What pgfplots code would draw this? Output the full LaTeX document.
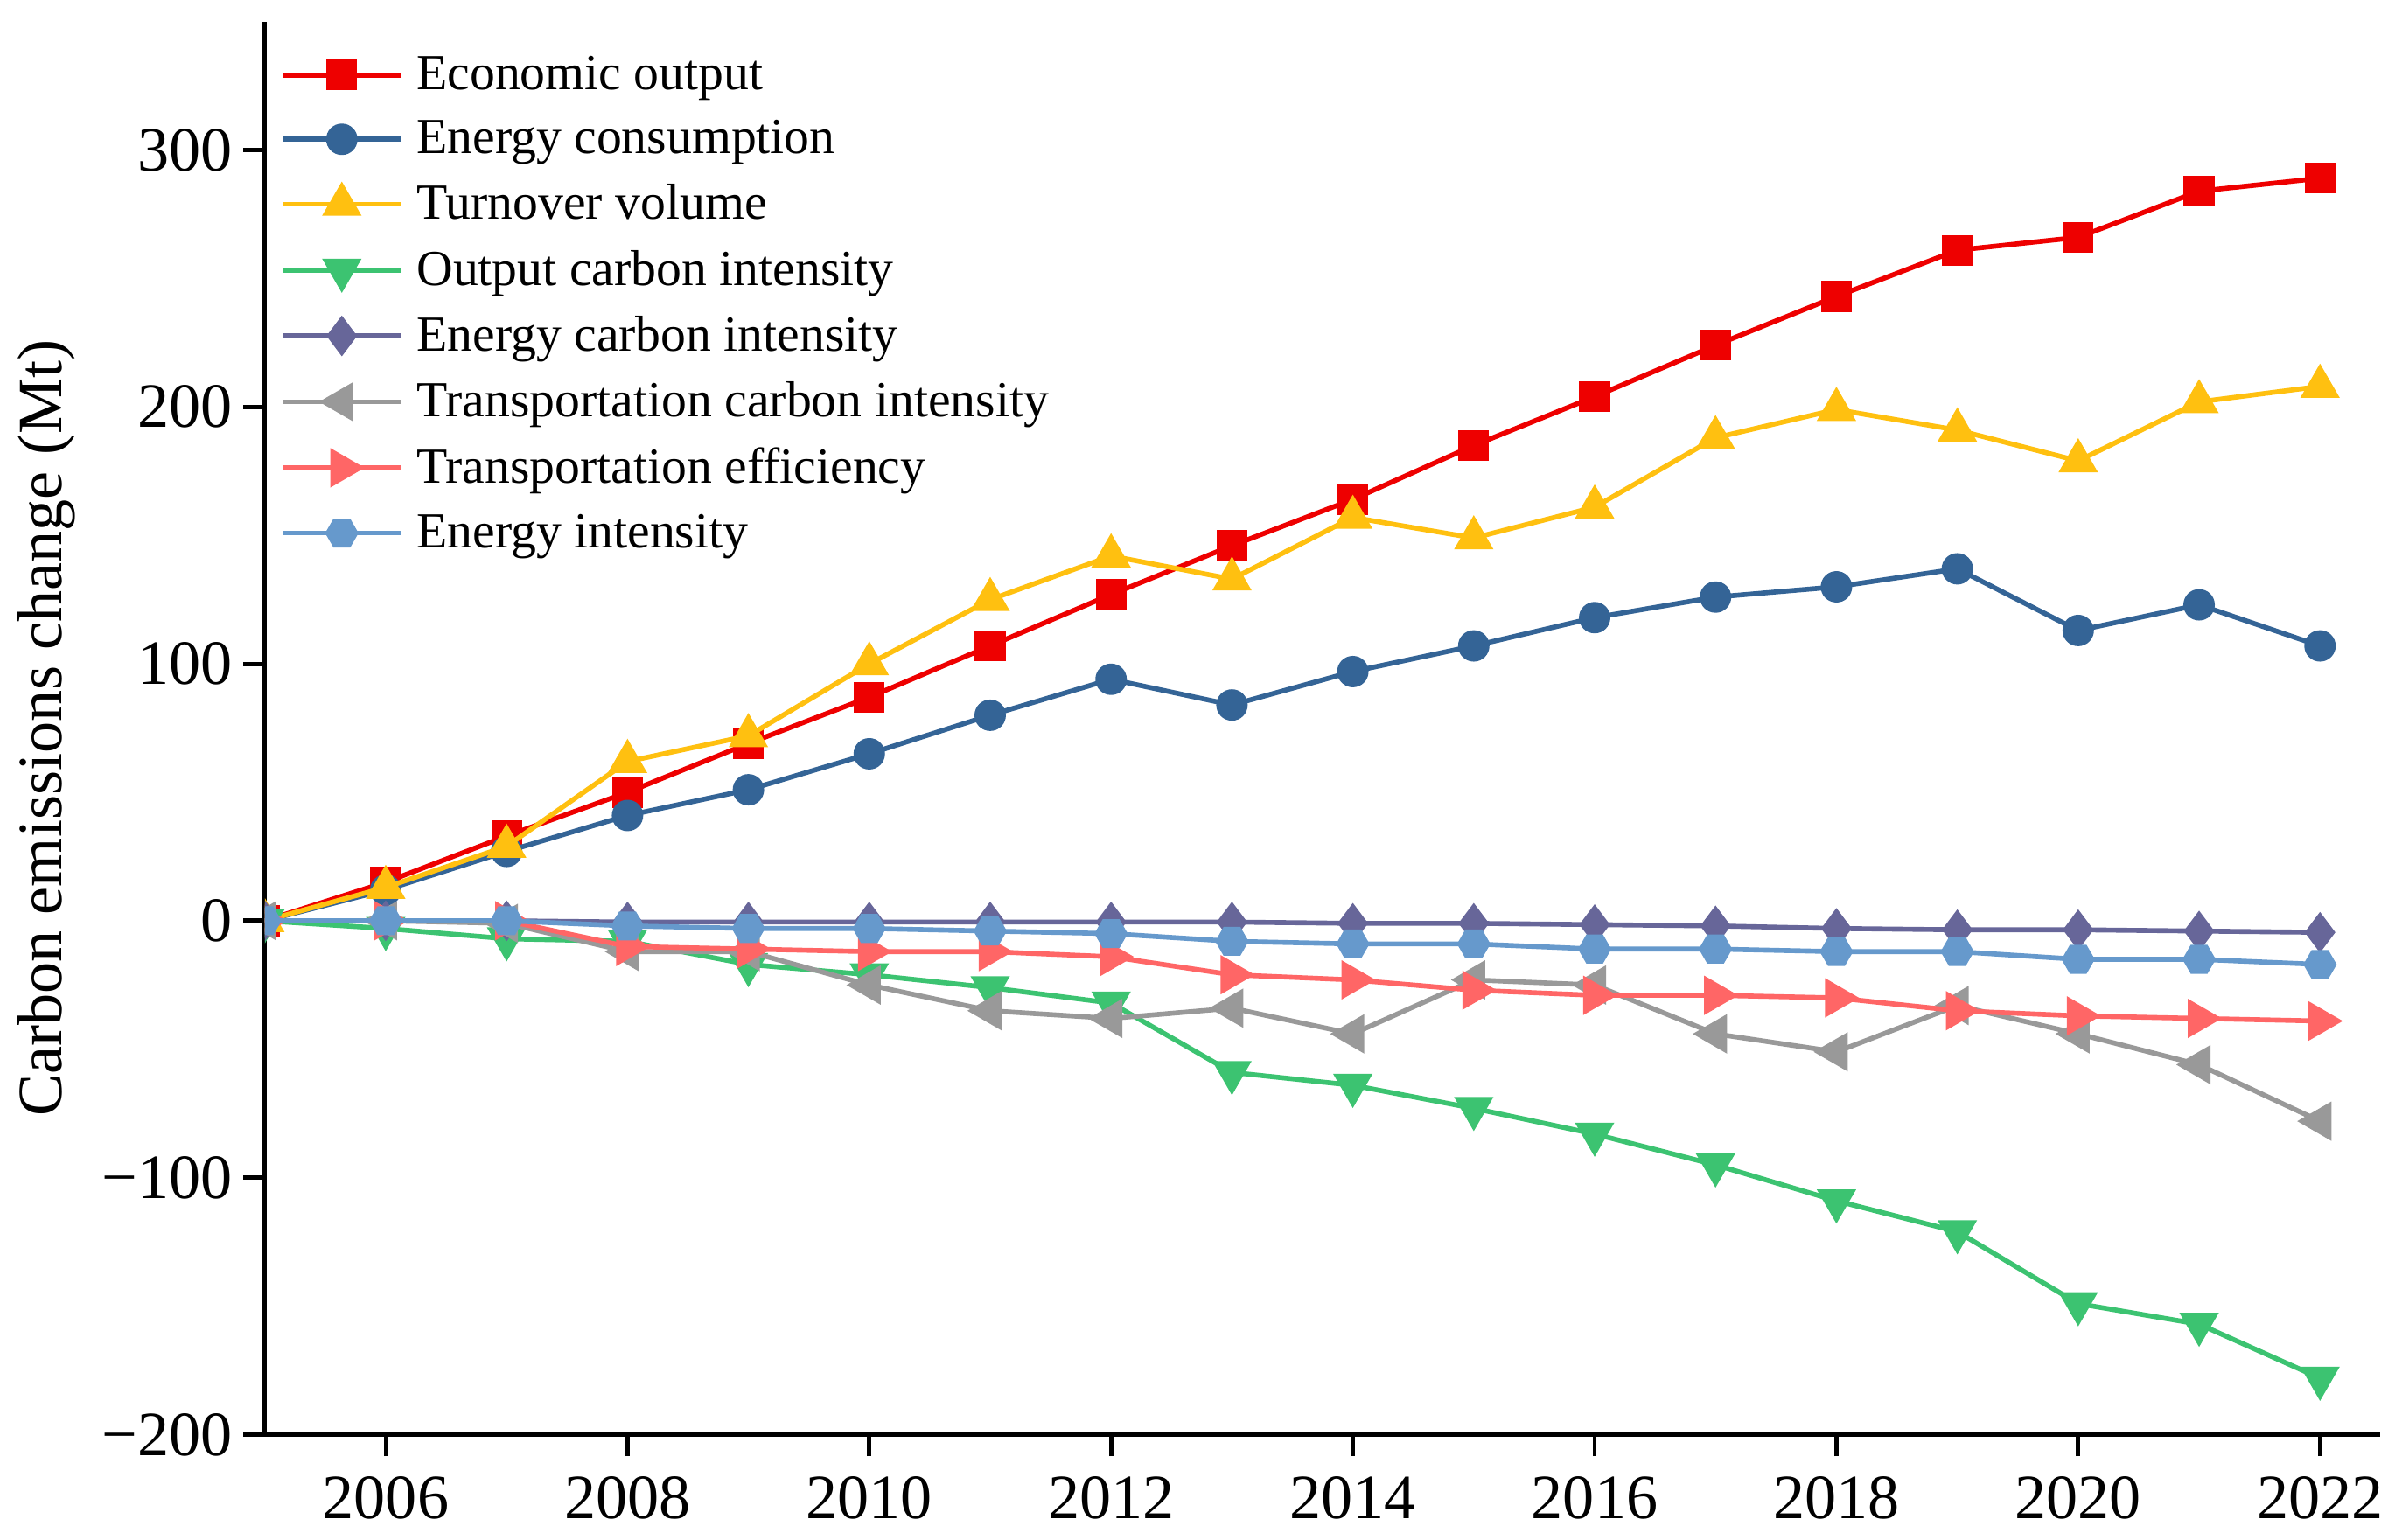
\documentclass[border=0pt]{standalone}
\usepackage{pgfplots}
\pgfplotsset{compat=1.18}
\usepackage{fontspec}
\setmainfont{Liberation Serif}

\definecolor{cEco}{RGB}{238,0,0}
\definecolor{cEnc}{RGB}{52,100,150}
\definecolor{cTur}{RGB}{255,192,16}
\definecolor{cOci}{RGB}{60,195,113}
\definecolor{cEci}{RGB}{103,102,153}
\definecolor{cTci}{RGB}{153,153,153}
\definecolor{cTef}{RGB}{255,102,102}
\definecolor{cEin}{RGB}{102,153,204}

% hexagon mark, flat top and bottom
\pgfdeclareplotmark{hexagon*}{%
  \pgfpathmoveto{\pgfqpointpolar{0}{\pgfplotmarksize}}%
  \pgfpathlineto{\pgfqpointpolar{60}{\pgfplotmarksize}}%
  \pgfpathlineto{\pgfqpointpolar{120}{\pgfplotmarksize}}%
  \pgfpathlineto{\pgfqpointpolar{180}{\pgfplotmarksize}}%
  \pgfpathlineto{\pgfqpointpolar{240}{\pgfplotmarksize}}%
  \pgfpathlineto{\pgfqpointpolar{300}{\pgfplotmarksize}}%
  \pgfpathclose
  \pgfusepathqfillstroke
}

\begin{document}
\begin{tikzpicture}
\path[use as bounding box] (-86pt,-34pt) rectangle (694pt,466pt);
\begin{axis}[
    scale only axis,
    width=687pt,
    height=459pt,
    axis x line*=bottom,
    axis y line*=left,
    axis line style={line width=1.4pt},
    tick align=outside,
    major tick length=7pt,
    tick style={line width=1.4pt, black},
    xmin=2005, xmax=2022.5,
    ymin=-200, ymax=350,
    clip marker paths=true,
    xtick={2006,2008,...,2022},
    xticklabels={2006,2008,2010,2012,2014,2016,2018,2020,2022},
    ytick={-200,-100,0,100,200,300},
    yticklabels={−200,−100,0,100,200,300},
    ticklabel style={font=\fontsize{20.5}{24}\selectfont},
    xticklabel style={yshift=-3pt},
    ylabel={Carbon emissions change (Mt)},
    ylabel style={font=\fontsize{20.5}{24}\selectfont, at={(axis description cs:-0.103,0.5)}, anchor=center},
    every axis plot/.append style={line width=1.6pt},
    legend style={at={(axis description cs:0,1)}, anchor=north west, xshift=5pt, yshift=-9pt,
        draw=none, fill=none, font=\fontsize{16.4}{19.5}\selectfont, row sep=4.5pt, column sep=2.5pt, inner sep=0pt},
    legend cell align=left,
    legend image code/.code={\draw[mark repeat=2,mark phase=2] plot coordinates {(0pt,0pt) (19pt,0pt) (38pt,0pt)};},
]
% Economic output
\addplot[color=cEco, mark=square*, mark size=4.2pt] coordinates {
(2005,0) (2006,15) (2007,33) (2008,50) (2009,69) (2010,87) (2011,107) (2012,127) (2013,146)
(2014,164) (2015,185) (2016,204) (2017,224) (2018,243) (2019,261) (2020,266) (2021,284) (2022,289)};
\addlegendentry{Economic output}
% Energy consumption
\addplot[color=cEnc, mark=*, mark size=4.3pt] coordinates {
(2005,0) (2006,12) (2007,27) (2008,41) (2009,51) (2010,65) (2011,80) (2012,94) (2013,84)
(2014,97) (2015,107) (2016,118) (2017,126) (2018,130) (2019,137) (2020,113) (2021,123) (2022,107)};
\addlegendentry{Energy consumption}
% Turnover volume
\addplot[color=cTur, mark=triangle*, mark size=5.8pt] coordinates {
(2005,0) (2006,13) (2007,29) (2008,62) (2009,72) (2010,100) (2011,125) (2012,142) (2013,133)
(2014,157) (2015,149) (2016,161) (2017,188) (2018,199) (2019,191) (2020,179) (2021,202) (2022,208)};
\addlegendentry{Turnover volume}
% Output carbon intensity
\addplot[color=cOci, mark=triangle*, mark size=5.8pt, mark options={rotate=180}] coordinates {
(2005,0) (2006,-3) (2007,-7) (2008,-8) (2009,-17) (2010,-21) (2011,-26) (2012,-32) (2013,-59)
(2014,-64) (2015,-73) (2016,-83) (2017,-95) (2018,-109) (2019,-121) (2020,-149) (2021,-157) (2022,-178)};
\addlegendentry{Output carbon intensity}
% Energy carbon intensity
\addplot[color=cEci, mark=diamond*, mark size=5.3pt] coordinates {
(2005,0) (2006,0) (2007,0) (2008,-0.5) (2009,-0.5) (2010,-0.5) (2011,-0.5) (2012,-0.5) (2013,-0.5)
(2014,-1) (2015,-1) (2016,-1.5) (2017,-2) (2018,-3) (2019,-3.5) (2020,-3.5) (2021,-4) (2022,-4.5)};
\addlegendentry{Energy carbon intensity}
% Transportation carbon intensity
\addplot[color=cTci, mark=triangle*, mark size=5.8pt, mark options={rotate=90}] coordinates {
(2005,0) (2006,0) (2007,-1) (2008,-12) (2009,-12) (2010,-25) (2011,-35) (2012,-38) (2013,-34)
(2014,-44) (2015,-23) (2016,-25) (2017,-44) (2018,-51) (2019,-33) (2020,-44) (2021,-56) (2022,-78)};
\addlegendentry{Transportation carbon intensity}
% Transportation efficiency
\addplot[color=cTef, mark=triangle*, mark size=5.8pt, mark options={rotate=-90}] coordinates {
(2005,0) (2006,0) (2007,0) (2008,-10) (2009,-11) (2010,-12) (2011,-12) (2012,-14) (2013,-21)
(2014,-23) (2015,-27) (2016,-29) (2017,-29) (2018,-30) (2019,-35) (2020,-37) (2021,-38) (2022,-39)};
\addlegendentry{Transportation efficiency}
% Energy intensity
\addplot[color=cEin, mark=hexagon*, mark size=4.5pt] coordinates {
(2005,0) (2006,0) (2007,0) (2008,-2) (2009,-3) (2010,-3) (2011,-4) (2012,-5) (2013,-8)
(2014,-9) (2015,-9) (2016,-11) (2017,-11) (2018,-12) (2019,-12) (2020,-15) (2021,-15) (2022,-17)};
\addlegendentry{Energy intensity}
\end{axis}
\end{tikzpicture}
\end{document}
